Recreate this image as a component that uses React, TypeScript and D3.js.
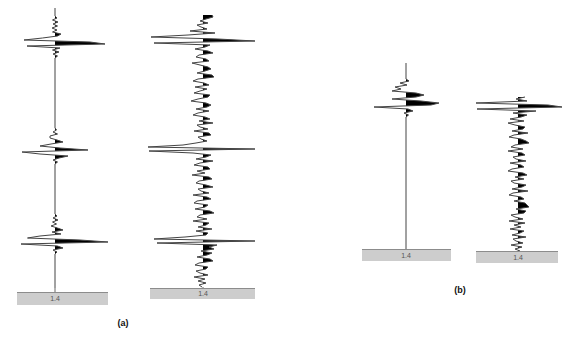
import React from "react";
import * as d3 from "d3";

// Sample interval (ms) shared by every trace
const DT = 2;

// Trace amplitudes, normalised so that 1.0 is the nominal full deflection
const traceA1 = [
  0, 0, 0, 0, 0, 0.04, -0.05, 0.06, -0.04, 0.05, -0.06, 0.04, -0.05, 0.12, 0.05, -0.25,
  -0.62, 0.7, 1.0, -0.56, 0.1, -0.05, 0.08, -0.04, 0.05, 0, 0, 0, 0, 0, 0, 0,
  0, 0, 0, 0, 0, 0, 0, 0, 0, 0, 0, 0, 0, 0, 0, 0, 0, 0, 0, 0, 0, 0, 0, 0, 0, 0, 0, 0, 0,
  0.03, -0.04, 0.05, -0.1, -0.1, 0.04, 0.16, -0.08, -0.3, 0.1, 0.66, -0.66, -0.3, 0.26, 0.08, -0.04, 0.05,
  0, 0, 0, 0, 0, 0, 0, 0, 0, 0, 0, 0, 0, 0, 0, 0, 0, 0, 0, 0, 0, 0, 0, 0, 0, 0,
  0.04, -0.04, 0.06, -0.05, 0.03, -0.08, 0.05, 0.16, -0.06, 0.12, -0.3, -0.55, 0.5, 1.06, -0.68, 0.05,
  0.16, -0.04, 0.04, 0, 0, 0, 0, 0, 0, 0, 0, 0, 0, 0, 0, 0, 0, 0, 0, 0, 0,
];

const traceA2 = [
  0.18, 0.2, 0.06, -0.06, 0.1, -0.12, -0.04, 0.08, -0.26, 0.24, -0.3,
  -1.04, 0.3, 1.04, -0.98,
  0.14, 0.04, -0.16, 0.1, 0.2, -0.08, -0.14, 0.06, 0.12, -0.22,
  -0.06, 0.1, 0.16, 0.04, -0.12, 0.18, 0.22, -0.1, -0.2, 0.02,
  0.12, -0.16, 0.08, -0.06, -0.18, 0.14, 0.1, -0.1, -0.24, 0.06,
  0.16, 0.08, -0.14, 0.12, -0.1, -0.2, 0.04, 0.14, -0.08, 0.2,
  -0.12, -0.06, 0.1, -0.18, 0.12, 0.16, -0.1, -0.04, 0.08, -0.14,
  -0.4, -1.1, 1.04, -1.08, -0.2,
  0.16, 0.06, -0.14, 0.2, -0.06, -0.18, 0.1, 0.14, -0.12, 0.04,
  -0.22, 0.12, 0.18, -0.08, -0.14, 0.06, 0.2, -0.1, -0.04, 0.12,
  -0.2, 0.08, 0.16, -0.12, -0.18, 0.1, 0.04, -0.16, 0.14, 0.22,
  -0.06, -0.12, 0.08, -0.2, 0.12, 0.06, -0.1, 0.18, -0.14, 0.1, 0.06,
  -0.36, -0.98, 1.04, -0.92, 0.28,
  0.12, 0.22, -0.04, 0.18, 0.08, -0.12, 0.14, 0.2, -0.08, -0.16,
  0.1, 0.06, -0.14, -0.06, 0.1, -0.18, 0.04, -0.1, 0.06, -0.08, -0.02,
];

const traceB1 = [
  0, 0, 0, 0, 0, 0, 0, 0, 0, 0.06, -0.12, 0.02, -0.22, -0.1, -0.28, 0.2,
  0.36, 0.2, -0.28, 0.3, 0.66, 0.5, -0.64, 0.04, 0.14, -0.04, 0.05, 0,
  0, 0, 0, 0, 0, 0, 0, 0, 0, 0, 0, 0, 0, 0, 0, 0, 0, 0, 0, 0, 0, 0, 0, 0, 0, 0, 0, 0, 0,
  0, 0, 0, 0, 0, 0, 0, 0, 0, 0, 0, 0, 0, 0, 0, 0, 0, 0, 0, 0, 0, 0, 0, 0, 0, 0, 0, 0, 0, 0, 0, 0, 0, 0, 0, 0, 0,
];

const traceB2 = [
  0.14, -0.04, 0.18, -0.84, 0.6, 0.88, -0.82, 0.36,
  -0.1, 0.18, 0.06, -0.16, 0.12, -0.2, -0.06, 0.14, 0.1, -0.12,
  0.2, -0.08, -0.18, 0.06, 0.16, 0.22, -0.06, -0.14, 0.1, -0.2,
  0.08, 0.14, -0.1, -0.04, 0.16, -0.16, 0.06, 0.12, -0.12, -0.2,
  0.1, 0.18, -0.06, 0.12, -0.14, -0.08, 0.16, 0.08, -0.12, 0.2,
  -0.1, -0.18, 0.06, 0.12, -0.08, 0.14, 0.18, 0.22, -0.04, 0.16,
  0.12, -0.14, -0.06, 0.1, -0.18, 0.14, -0.08, 0.06, -0.16, 0.12,
  0.04, -0.12, 0.16, -0.1, -0.04, 0.1, -0.14, 0.08, -0.06, 0.04,
];

// Header value printed under each trace
const traceLabels = ["1.4", "1.4", "1.4", "1.4"];
const panelLabels = ["(a)", "(b)"];

type Layout = {
  cx: number;
  top: number;
  box: [number, number, number, number];
};

const layouts: Layout[] = [
  { cx: 55, top: 8, box: [17, 108, 292, 305] },
  { cx: 203, top: 15, box: [150, 255, 288, 299] },
  { cx: 406, top: 63, box: [362, 451, 249, 261] },
  { cx: 518, top: 97, box: [476, 558, 251, 263] },
];

const traces = [traceA1, traceA2, traceB1, traceB2];

const HALF = 50; // pixels for one unit of amplitude
const PX_PER_MS = 1;

function Trace({ amp, layout, label, id }: { amp: number[]; layout: Layout; label: string; id: string }) {
  const n = amp.length;
  const tMax = (n - 1) * DT;
  const y = d3.scaleLinear().domain([0, tMax]).range([layout.top, layout.top + tMax * PX_PER_MS]);
  const x = d3.scaleLinear().domain([-1, 1]).range([layout.cx - HALF, layout.cx + HALF]);
  const pts = amp.map((a, i) => ({ t: i * DT, a }));

  const line = d3
    .line<{ t: number; a: number }>()
    .x((d) => x(d.a))
    .y((d) => y(d.t));
  const area = d3
    .area<{ t: number; a: number }>()
    .y((d) => y(d.t))
    .x0(x(0))
    .x1((d) => x(d.a));

  const [bx0, bx1, by0, by1] = layout.box;
  const y0 = y(0);
  const y1 = y(tMax);

  return (
    <g>
      <defs>
        <clipPath id={id}>
          <rect x={x(0)} y={y0 - 2} width={HALF * 1.5} height={y1 - y0 + 4} />
        </clipPath>
      </defs>
      {/* trace continues down to the header box */}
      <line x1={x(0)} x2={x(0)} y1={y1} y2={by0} stroke="#666" strokeWidth={1} />
      <path d={area(pts) ?? ""} fill="#000" clipPath={`url(#${id})`} />
      <path d={line(pts) ?? ""} fill="none" stroke="#444" strokeWidth={1} strokeLinejoin="miter" />
      <rect x={bx0} y={by0} width={bx1 - bx0} height={by1 - by0} fill="#cdcdcd" />
      <line x1={bx0} x2={bx1} y1={by0 + 0.5} y2={by0 + 0.5} stroke="#8c8c8c" strokeWidth={1} />
      <text
        x={x(0)}
        y={(by0 + by1) / 2 + 2.5}
        textAnchor="middle"
        fontFamily="Liberation Sans, Arial, sans-serif"
        fontSize={7}
        fill="#555"
      >
        {label}
      </text>
    </g>
  );
}

export default function App() {
  return (
    <div style={{ position: "absolute", left: 0, top: 0 }}>
      <svg width={562} height={341} style={{ display: "block", background: "#fff" }}>
        {traces.map((amp, i) => (
          <Trace key={i} amp={amp} layout={layouts[i]} label={traceLabels[i]} id={`clip-trace-${i}`} />
        ))}
        <text x={123} y={326} textAnchor="middle" fontFamily="Liberation Sans, Arial, sans-serif" fontWeight="bold" fontSize={9} fill="#111">
          {panelLabels[0]}
        </text>
        <text x={460} y={293} textAnchor="middle" fontFamily="Liberation Sans, Arial, sans-serif" fontWeight="bold" fontSize={9} fill="#111">
          {panelLabels[1]}
        </text>
      </svg>
    </div>
  );
}
